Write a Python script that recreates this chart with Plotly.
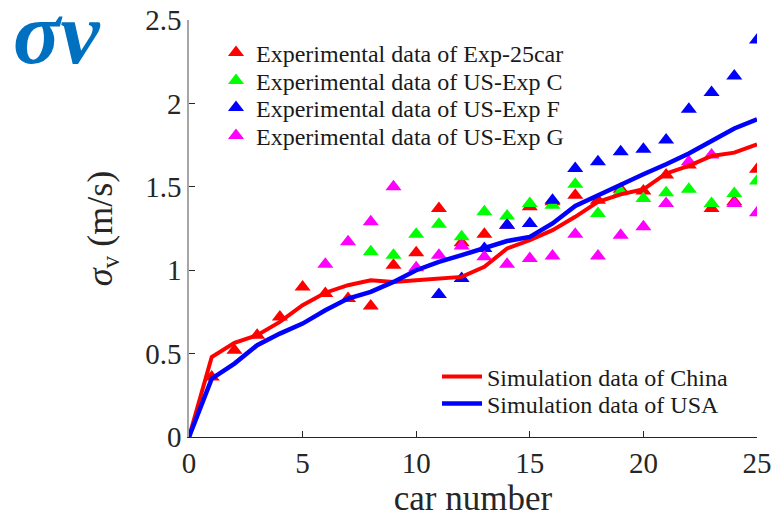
import plotly.graph_objects as go

cars = list(range(0, 26))

# Simulation lines (x = 0..25)
sim_china = [0, 0.48, 0.565, 0.61, 0.69, 0.79, 0.865, 0.91, 0.94, 0.93, 0.94, 0.95, 0.96,
             1.02, 1.13, 1.18, 1.24, 1.32, 1.41, 1.455, 1.485, 1.58, 1.625, 1.685, 1.705, 1.755]
sim_usa = [0, 0.35, 0.44, 0.55, 0.62, 0.68, 0.76, 0.83, 0.87, 0.93, 1.00, 1.05, 1.09,
           1.13, 1.175, 1.20, 1.28, 1.385, 1.45, 1.51, 1.575, 1.635, 1.70, 1.775, 1.85, 1.905]

# Experimental data
exp25_x = list(range(1, 26))
exp25_y = [0.36, 0.52, 0.61, 0.72, 0.90, 0.86, 0.83, 0.785, 1.03, 1.105, 1.37, 1.165, 1.215,
           1.27, 1.38, 1.41, 1.45, 1.42, 1.485, 1.475, 1.57, 1.63, 1.37, 1.41, 1.605]

expC_x = list(range(8, 26))
expC_y = [1.11, 1.09, 1.215, 1.275, 1.20, 1.35, 1.325, 1.40, 1.39, 1.515, 1.34, 1.47,
          1.43, 1.465, 1.485, 1.40, 1.46, 1.535]

expF_x = list(range(11, 26))
expF_y = [0.855, 0.95, 1.13, 1.27, 1.28, 1.42, 1.61, 1.65, 1.71, 1.725, 1.78, 1.965,
          2.065, 2.165, 2.38]

expG_x = list(range(6, 26))
expG_y = [1.035, 1.17, 1.29, 1.50, 1.015, 1.09, 1.145, 1.08, 1.035, 1.07, 1.085, 1.215,
          1.085, 1.21, 1.26, 1.40, 1.65, 1.69, 1.40, 1.345]

x_ticks = [0, 5, 10, 15, 20, 25]
y_ticks = [0, 0.5, 1, 1.5, 2, 2.5]
y_tick_text = ["0", "0.5", "1", "1.5", "2", "2.5"]

FONT = "Liberation Serif"
L, R, T, B = 189, 17, 20, 83
W, H = 774, 520
PW, PH = W - L - R, H - T - B


def px_x(px):
    return (px - L) / PW


def px_y(py):
    return (H - B - py) / PH


fig = go.Figure()

exp_series = [
    ("Experimental data of Exp-25car", exp25_x, exp25_y, "#ff0000"),
    ("Experimental data of US-Exp C", expC_x, expC_y, "#00ff00"),
    ("Experimental data of US-Exp F", expF_x, expF_y, "#0000ff"),
    ("Experimental data of US-Exp G", expG_x, expG_y, "#ff00ff"),
]
marker_rows = [53, 81, 108, 136]
legend_defs = {}
for i, (name, xs, ys, col) in enumerate(exp_series):
    lg = "legend" if i == 0 else f"legend{i + 1}"
    fig.add_trace(go.Scatter(
        x=xs, y=ys, mode="markers", name=name,
        marker=dict(symbol="triangle-up", size=14, color=col, line=dict(width=0)),
        legend=lg,
    ))
    legend_defs[lg] = dict(x=px_x(216), y=px_y(marker_rows[i]), xanchor="left", yanchor="middle",
                           bgcolor="rgba(0,0,0,0)",
                           font=dict(size=24, family=FONT, color="#1a1a1a"))

line_series = [
    ("Simulation data of China", sim_china, "#ff0000", 4),
    ("Simulation data of USA", sim_usa, "#0000ff", 4.5),
]
line_rows = [377, 404]
for j, (name, ys, col, lw) in enumerate(line_series):
    lg = f"legend{5 + j}"
    fig.add_trace(go.Scatter(x=cars, y=ys, mode="lines", name=name,
                             line=dict(color=col, width=lw), legend=lg))
    legend_defs[lg] = dict(x=px_x(437), y=px_y(line_rows[j]), xanchor="left", yanchor="middle",
                           bgcolor="rgba(0,0,0,0)", itemwidth=40,
                           font=dict(size=24, family=FONT, color="#1a1a1a"))

fig.update_layout(
    width=W, height=H,
    margin=dict(l=L, r=R, t=T, b=B, autoexpand=False),
    paper_bgcolor="white", plot_bgcolor="white",
    font=dict(family=FONT, color="#262626"),
    xaxis=dict(
        range=[0, 25], tickvals=x_ticks, ticks="inside", ticklen=6, tickcolor="#262626",
        showline=True, linecolor="#262626", linewidth=1.2, showgrid=False, zeroline=False,
        automargin=False,
        tickfont=dict(size=29, family=FONT, color="#262626"),
        title=dict(text="car number", font=dict(size=35, family=FONT, color="#262626"), standoff=4),
    ),
    yaxis=dict(
        range=[0, 2.5], tickvals=y_ticks, ticktext=y_tick_text, ticks="inside", ticklen=6,
        tickcolor="#262626", showline=True, linecolor="#a6a6a6", linewidth=1.5,
        showgrid=False, zeroline=False, automargin=False,
        tickfont=dict(size=29, family=FONT, color="#262626"),
        title=dict(text="<i>σ</i><sub>v</sub> (m/s)", font=dict(size=36, family=FONT, color="#262626"),
                   standoff=22),
    ),
    showlegend=True,
    annotations=[dict(
        text="<b><i>σv</i></b>", x=px_x(56), y=px_y(33), xref="paper", yref="paper",
        xanchor="center", yanchor="middle", showarrow=False,
        font=dict(size=88, family=FONT, color="#0070c0"),
    )],
    **legend_defs,
)

fig.write_html("out.html")
